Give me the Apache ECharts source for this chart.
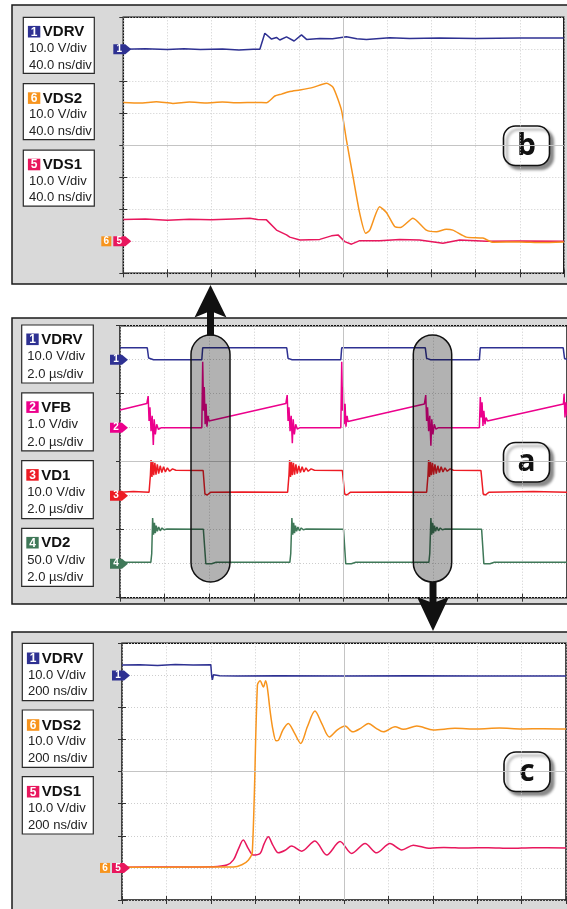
<!DOCTYPE html>
<html>
<head>
<meta charset="utf-8">
<script src="https://cdn.jsdelivr.net/npm/echarts@6/dist/echarts.min.js"></script>
<style>
  html, body { margin: 0; padding: 0; background: #fff; }
  #chart { width: 567px; height: 909px; }
</style>
</head>
<body>
<div id="chart"></div>
<script>

// panel b : 40 ns/div
const bVDRV = [[0,7.0],[20,7.02],[40,6.99],[55,7.02],[70,6.99],[90,7.01],[105,6.98],[118,7.0],[124,7.0],[128.5,7.5],[134.6,7.32],[139.1,7.37],[142.1,7.29],[148.2,7.39],[155.1,7.26],[161.8,7.45],[166.4,7.31],[178.4,7.34],[190,7.33],[202.6,7.39],[212,7.33],[220.8,7.31],[241.9,7.36],[260,7.34],[287,7.35],[320,7.34],[360,7.35],[400,7.35]];
const bVDS2 = [[0,5.34],[15,5.32],[30,5.36],[45,5.31],[60,5.35],[75,5.32],[90,5.35],[105,5.33],[120,5.34],[130,5.33],[137.6,5.54],[143.7,5.6],[151.2,5.68],[160.3,5.73],[172.3,5.81],[184.5,5.94],[190.5,5.81],[198.1,5.1],[202.6,4.17],[208.6,3.02],[214.7,1.87],[220.1,1.25],[223.8,1.35],[232.8,2.08],[238.9,1.9],[246.4,1.46],[251.6,1.43],[263,1.72],[275.2,1.35],[284.3,1.3],[293.3,1.38],[299.3,1.35],[311.5,1.13],[326.5,1.1],[335.6,0.97],[360,0.98],[380,0.96],[400,0.98]];
const bVDS1 = [[0,1.68],[20,1.7],[40,1.66],[60,1.69],[80,1.67],[100,1.7],[114.9,1.72],[122,1.68],[130,1.67],[139.1,1.35],[148.2,1.2],[151.2,1.13],[160.3,1.04],[178.4,1.06],[189,1.17],[195,1.2],[201.1,0.99],[207.2,0.91],[214.7,1.02],[232.8,1.02],[250.9,1.06],[269,1.04],[290.2,0.94],[305.4,1.04],[330,1.0],[360,1.01],[400,1.0]];

// panel a : 2 us/div
const aVDRV = [[0,7.35],[1.22,7.35],[1.28,7.05],[1.5,7.0],[3.66,7.0],[3.7,7.35],[7.46,7.35],[7.52,7.04],[7.7,7.0],[9.88,7.0],[9.92,7.35],[13.66,7.35],[13.72,7.04],[13.9,7.0],[16.08,7.0],[16.12,7.35],[19.83,7.35],[19.89,7.04],[20,7.0]];
const aVFB = [[0,5.52],[1.2,5.71],[1.26,5.93],[1.3,5.2],[1.34,5.6],[1.39,4.9],[1.44,5.35],[1.49,4.49],[1.53,5.25],[1.58,4.8],[1.64,5.1],[1.72,4.95],[1.85,5.0],[3.66,5.0],[3.7,6.94],[3.74,5.5],[3.77,6.2],[3.81,5.1],[3.85,5.7],[3.89,5.03],[3.94,5.35],[3.98,5.2],
  [7.42,5.71],[7.48,5.96],[7.52,5.2],[7.56,5.6],[7.61,4.9],[7.66,5.35],[7.71,4.54],[7.75,5.25],[7.8,4.8],[7.86,5.1],[7.93,4.96],[8.05,5.0],[9.88,5.0],[9.92,6.94],[9.96,5.5],[9.99,6.2],[10.03,5.1],[10.07,5.7],[10.11,5.03],[10.16,5.35],[10.2,5.18],
  [13.62,5.7],[13.68,5.96],[13.72,5.2],[13.76,5.6],[13.81,4.9],[13.86,5.35],[13.91,4.47],[13.95,5.25],[14.0,4.8],[14.06,5.1],[14.13,4.96],[14.25,5.0],[16.08,5.0],[16.12,5.9],[16.16,5.3],[16.2,5.75],[16.24,5.05],[16.28,5.5],[16.33,5.1],[16.38,5.3],[16.44,5.2],
  [19.84,5.7],[19.87,6.0],[19.91,5.3],[19.95,5.75],[20,5.35]];
const aVD1 = [[0,3.1],[0.6,3.12],[1.3,3.1],[1.36,3.6],[1.39,4.05],[1.43,3.55],[1.47,4.0],[1.51,3.6],[1.56,3.97],[1.61,3.62],[1.67,3.92],[1.73,3.65],[1.8,3.88],[1.87,3.68],[1.95,3.85],[2.03,3.7],[2.12,3.82],[2.22,3.72],[2.35,3.79],[2.5,3.75],[3.72,3.74],[3.8,3.05],[3.9,3.02],[4.05,3.1],[5.5,3.11],[7.5,3.1],
  [7.56,3.6],[7.59,4.05],[7.63,3.55],[7.67,4.0],[7.71,3.6],[7.76,3.97],[7.81,3.62],[7.87,3.92],[7.93,3.65],[8.0,3.88],[8.07,3.68],[8.15,3.85],[8.23,3.7],[8.32,3.82],[8.42,3.72],[8.55,3.79],[8.7,3.75],[9.95,3.74],[10.05,3.05],[10.15,3.02],[10.3,3.1],[12,3.11],[13.72,3.1],
  [13.78,3.6],[13.81,4.05],[13.85,3.55],[13.89,4.0],[13.93,3.6],[13.98,3.97],[14.03,3.62],[14.09,3.92],[14.15,3.65],[14.22,3.88],[14.29,3.68],[14.37,3.85],[14.45,3.7],[14.54,3.82],[14.64,3.72],[14.77,3.79],[14.92,3.75],[16.15,3.74],[16.25,3.05],[16.35,3.02],[16.5,3.1],[18.5,3.12],[20,3.1]];
const aVD2 = [[0,1.04],[1.38,1.04],[1.42,1.3],[1.46,2.34],[1.5,1.85],[1.54,2.2],[1.58,1.9],[1.62,2.12],[1.67,1.95],[1.73,2.08],[1.8,1.97],[1.88,2.05],[1.97,2.0],[2.1,2.02],[3.73,2.01],[3.84,1.0],[3.92,0.96],[4.1,1.0],[4.3,1.04],[7.6,1.04],
  [7.64,1.3],[7.69,2.34],[7.73,1.85],[7.77,2.2],[7.81,1.9],[7.85,2.12],[7.9,1.95],[7.96,2.08],[8.03,1.97],[8.11,2.05],[8.2,2.0],[8.33,2.02],[10.0,2.01],[10.1,1.0],[10.18,0.96],[10.35,1.0],[10.55,1.04],[13.82,1.04],
  [13.86,1.3],[13.91,2.34],[13.95,1.85],[13.99,2.2],[14.03,1.9],[14.07,2.12],[14.12,1.95],[14.18,2.08],[14.25,1.97],[14.33,2.05],[14.42,2.0],[14.55,2.02],[16.18,2.01],[16.28,1.0],[16.36,0.96],[16.55,1.0],[16.75,1.04],[20,1.04]];

// panel c : 200 ns/div
const cVDRV = [[0,7.32],[80,7.33],[160,7.31],[240,7.34],[320,7.32],[400,7.33],[404,6.98],[407,6.86],[412,7.02],[420,6.96],[440,6.99],[520,6.98],[700,6.99],[1000,6.98],[1300,6.99],[1600,6.98],[2000,6.98]];
const cVDS2 = [[0,1.02],[200,1.02],[400,1.03],[501,1.03],[540,1.1],[569,1.24],[587,1.5],[610,6.7],[622,6.83],[637,6.64],[647,6.83],[655,6.6],[667,5.9],[680,5.3],[694,4.96],[705,4.98],[725,5.3],[749,5.5],[777,5.2],[805,4.88],[835,5.4],[869,5.89],[900,5.5],[934,5.08],[970,5.3],[1005,5.42],[1039,5.24],[1075,5.35],[1110,5.5],[1145,5.35],[1177,5.24],[1230,5.4],[1267,5.32],[1328,5.42],[1402,5.3],[1500,5.35],[1600,5.33],[1700,5.36],[1800,5.33],[1900,5.34],[2000,5.33]];
const cVDS1 = [[0,1.02],[200,1.03],[411,1.04],[472,1.09],[502,1.25],[525,1.6],[546,1.87],[569,1.6],[591,1.4],[622,1.45],[640,1.75],[659,1.97],[680,1.7],[704,1.47],[735,1.55],[764,1.68],[809,1.52],[869,1.84],[922,1.4],[982,1.82],[1035,1.45],[1095,1.76],[1147,1.47],[1207,1.76],[1260,1.56],[1312,1.71],[1388,1.61],[1450,1.64],[1550,1.62],[1650,1.63],[1750,1.61],[1850,1.63],[2000,1.62]];

// channel captions
const bChannels = [['1', 'VDRV', '10.0 V/div', '40.0 ns/div'], ['6', 'VDS2', '10.0 V/div', '40.0 ns/div'], ['5', 'VDS1', '10.0 V/div', '40.0 ns/div']];
const aChannels = [['1', 'VDRV', '10.0 V/div', '2.0 \u00b5s/div'], ['2', 'VFB', '1.0 V/div', '2.0 \u00b5s/div'], ['3', 'VD1', '10.0 V/div', '2.0 \u00b5s/div'], ['4', 'VD2', '50.0 V/div', '2.0 \u00b5s/div']];
const cChannels = [['1', 'VDRV', '10.0 V/div', '200 ns/div'], ['6', 'VDS2', '10.0 V/div', '200 ns/div'], ['5', 'VDS1', '10.0 V/div', '200 ns/div']];
// ground reference level of each channel, in divisions
const groundLevels = { '1': 7, '2': 5, '3': 3, '4': 1, '5': 1, '6': 1 };

const COL = {
  '1': '#2e3192',
  '2': '#ec008c',
  '3': '#ed1c24',
  '4': '#3f7858',
  '5': '#e8175d',
  '6': '#f7941d'
};
const FONT = '"Liberation Sans", Arial, sans-serif';

const chart = echarts.init(document.getElementById('chart'), null, { renderer: 'canvas' });

const tickStyle = { show: true, inside: true, length: 4, lineStyle: { color: '#333', width: 1 } };
const gridLineStyle = { show: true, lineStyle: { color: '#cdcdcd', type: [1, 2], width: 1 } };

function panelAxes(i, max, step) {
  const base = { gridIndex: i, type: 'value', min: 0, max: max, interval: step, axisLabel: { show: false }, axisLine: { show: false }, axisTick: tickStyle };
  return [
    Object.assign({}, base, { position: 'bottom', splitLine: gridLineStyle }),
    Object.assign({}, base, { position: 'top', splitLine: { show: false } })
  ];
}
function panelYAxes(i) {
  const base = { gridIndex: i, type: 'value', min: 0, max: 8, interval: 1, axisLabel: { show: false }, axisLine: { show: false }, axisTick: tickStyle };
  return [
    Object.assign({}, base, { position: 'left', splitLine: gridLineStyle }),
    Object.assign({}, base, { position: 'right', splitLine: { show: false } })
  ];
}

const tagPath = 'path://M0,0 L12,0 L18,5 L12,10 L0,10 Z';

function trace(i, num, data, opts) {
  opts = opts || {};
  const isSquare = opts.square;
  const s = {
    type: 'line',
    xAxisIndex: 2 * i,
    yAxisIndex: 2 * i,
    data: data,
    showSymbol: false,
    symbol: 'none',
    silent: true,
    smooth: opts.smooth || false,
    lineStyle: { color: COL[num], width: 1.5 },
    z: 3,
    markPoint: {
      silent: true,
      symbol: isSquare ? 'rect' : tagPath,
      symbolSize: isSquare ? [10, 10] : [18, 10],
      symbolOffset: [isSquare ? -17 : -1, 0],
      itemStyle: { color: COL[num] },
      label: {
        show: true, formatter: num, color: '#fff', fontSize: 10, fontWeight: 'bold', fontFamily: FONT,
        position: 'inside', offset: [isSquare ? 0 : -3, 0]
      },
      data: [{ coord: [0, groundLevels[num]] }]
    }
  };
  if (opts.mid !== undefined) {
    s.markLine = {
      silent: true, symbol: 'none', label: { show: false }, animation: false,
      lineStyle: { color: '#c4c4c4', type: 'solid', width: 1 },
      data: [{ xAxis: opts.mid }, { yAxis: 4 }]
    };
  }
  return s;
}

function labelBox(x, y, w, h, rows, ch) {
  const color = COL[ch[0]];
  return {
    type: 'group', z: 50,
    children: [
      { type: 'rect', shape: { x: x, y: y, width: w, height: h }, style: { fill: '#fff', stroke: '#2a2a2a', lineWidth: 1.2 } },
      { type: 'rect', shape: { x: x + 4.6, y: y + rows[0] - 5.8, width: 12.4, height: 11.6 }, style: { fill: color } },
      { type: 'text', x: x + 10.8, y: y + rows[0] + 0.5, style: { text: ch[0], font: 'bold 12px ' + FONT, fill: '#fff', textAlign: 'center', textVerticalAlign: 'middle', verticalAlign: 'middle' } },
      { type: 'text', x: x + 19.5, y: y + rows[0] + 0.5, style: { text: ch[1], font: 'bold 15px ' + FONT, fill: '#111', textVerticalAlign: 'middle', verticalAlign: 'middle' } },
      { type: 'text', x: x + 5.6, y: y + rows[1], style: { text: ch[2], font: '13px ' + FONT, fill: '#222', textVerticalAlign: 'middle', verticalAlign: 'middle' } },
      { type: 'text', x: x + 5.6, y: y + rows[2], style: { text: ch[3], font: '13px ' + FONT, fill: '#222', textVerticalAlign: 'middle', verticalAlign: 'middle' } }
    ]
  };
}

function badge(x, y, letter) {
  return {
    type: 'group', z: 50,
    children: [
      { type: 'rect', shape: { x: x, y: y, width: 46, height: 39.5, r: 12 },
        style: { fill: '#fff', stroke: '#111', lineWidth: 1.6, shadowBlur: 3, shadowOffsetX: 3.5, shadowOffsetY: 3.5, shadowColor: 'rgba(0,0,0,0.45)' } },
      { type: 'text', x: x + 23, y: y + 20, style: { text: letter, font: 'bold 30px "Open Sans", "DejaVu Sans", sans-serif', fill: '#111', textAlign: 'center', textVerticalAlign: 'middle', verticalAlign: 'middle' } }
    ]
  };
}

function frame(y, h) {
  return { type: 'rect', z: -10, shape: { x: 12, y: y, width: 600, height: h }, style: { fill: '#d9d9d9', stroke: '#1a1a1a', lineWidth: 1.5 } };
}

const graphics = [
  frame(5, 279),
  frame(318, 286),
  frame(632, 300)
];
bChannels.forEach(function (ch, k) { graphics.push(labelBox(23.3, 17.3 + k * 66.4, 71, 56, [14.4, 31, 47.7], ch)); });
aChannels.forEach(function (ch, k) { graphics.push(labelBox(21.7, 325 + k * 67.8, 71.6, 58, [14.3, 31.7, 49.3], ch)); });
cChannels.forEach(function (ch, k) { graphics.push(labelBox(22.3, 643.3 + k * 66.7, 71, 57.3, [15, 31.7, 48.4], ch)); });
graphics.push(badge(503.5, 126, 'b'));
graphics.push(badge(503.5, 442.5, 'a'));
graphics.push(badge(504, 752, 'c'));

// highlighted switching instants and the arrows to the zoomed captures
graphics.push({ type: 'rect', z: 60, shape: { x: 191, y: 335, width: 39, height: 247, r: 19.5 }, style: { fill: 'rgba(0,0,0,0.3)', stroke: '#111', lineWidth: 1.5 } });
graphics.push({ type: 'rect', z: 60, shape: { x: 413.3, y: 335, width: 38.4, height: 247, r: 19.2 }, style: { fill: 'rgba(0,0,0,0.3)', stroke: '#111', lineWidth: 1.5 } });
graphics.push({ type: 'rect', z: 61, shape: { x: 207, y: 308, width: 7, height: 27.5 }, style: { fill: '#111' } });
graphics.push({ type: 'polygon', z: 61, shape: { points: [[210.5, 285], [226.5, 317.5], [210.5, 311], [194.5, 317.5]] }, style: { fill: '#111' } });
graphics.push({ type: 'rect', z: 61, shape: { x: 429.5, y: 582, width: 7, height: 22 }, style: { fill: '#111' } });
graphics.push({ type: 'polygon', z: 61, shape: { points: [[417, 597], [433, 603], [449, 597], [433, 631]] }, style: { fill: '#111' } });

const gridBase = { show: true, backgroundColor: '#fff', borderColor: '#111', borderWidth: 1.5 };

const option = {
  animation: false,
  backgroundColor: '#fff',
  grid: [
    Object.assign({ left: 123.3, top: 17.3, width: 440.5, height: 256 }, gridBase),
    Object.assign({ left: 120, top: 325.7, width: 450, height: 272 }, gridBase),
    Object.assign({ left: 122, top: 643.3, width: 444, height: 256.7 }, gridBase)
  ],
  xAxis: [].concat(panelAxes(0, 400, 40), panelAxes(1, 20, 2), panelAxes(2, 2000, 200)),
  yAxis: [].concat(panelYAxes(0), panelYAxes(1), panelYAxes(2)),
  series: [
    trace(0, '1', bVDRV, { mid: 200 }),
    trace(0, '5', bVDS1),
    trace(0, '6', bVDS2, { square: true, smooth: 0.2 }),

    trace(1, '1', aVDRV, { mid: 10 }),
    trace(1, '2', aVFB),
    trace(1, '3', aVD1),
    trace(1, '4', aVD2),

    trace(2, '1', cVDRV, { mid: 1000 }),
    trace(2, '5', cVDS1, { smooth: 0.3 }),
    trace(2, '6', cVDS2, { square: true, smooth: 0.3 })
  ],
  graphic: { elements: graphics }
};

chart.setOption(option);
</script>
</body>
</html>
